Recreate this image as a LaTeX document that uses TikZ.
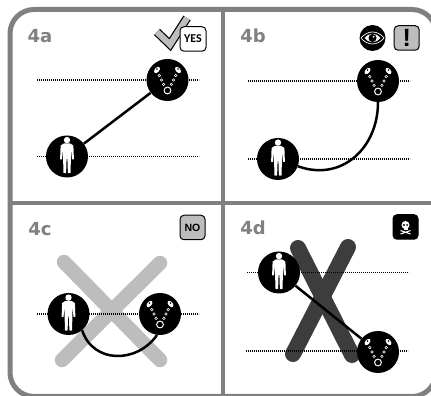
\documentclass[tikz,border=0pt]{standalone}
\usepackage{fontspec}
\setmainfont{Liberation Sans}
\newfontfamily\tagfont{DejaVu Sans}
\newfontfamily\yesfont{Carlito}
\usetikzlibrary{positioning,backgrounds}
\definecolor{framegrey}{HTML}{808080}
\definecolor{softgrey}{HTML}{BDBDBD}
\definecolor{darkgrey}{HTML}{3D3D3D}
\tikzset{
  disc/.style     = {circle, fill=black, minimum size=42pt, inner sep=0pt},
  tagtext/.style  = {font=\tagfont\bfseries\fontsize{18}{18}\selectfont, text=framegrey, inner sep=0pt},
  badge/.style    = {rectangle, rounded corners=4pt, draw=black, line width=1pt, fill=white,
                     minimum width=25pt, minimum height=24.5pt, inner sep=0pt,
                     font=\bfseries\fontsize{10.5}{10.5}\selectfont},
  tether/.style   = {line width=2.5pt, draw=black},
  guide/.style    = {line width=1.1pt, draw=black, dash pattern=on 1.1pt off 0.9pt},
  softcross/.style = {line width=14.5pt, draw=softgrey, line cap=round},
  darkcross/.style = {line width=16pt, draw=darkgrey, line cap=round},
  personfig/.pic = {
    \fill[white] (0,16.4) circle (3.2);
    \fill[white, rounded corners=0.5pt] (-3,13.2) -- (3,13.2) -- (6.4,11) -- (6.9,-3) -- (5,-3) -- (4,7)
      -- (3.6,-16.6) -- (0.9,-16.6) -- (0.4,-2) -- (-0.4,-2) -- (-0.9,-16.6) -- (-3.6,-16.6) -- (-4,7)
      -- (-5,-3) -- (-6.9,-3) -- (-6.4,11) -- cycle;
  },
  chainfig/.pic = {
    \draw[white, line width=1pt] (0,-10.5) circle (3.4);
    \foreach \s in {-1,1} {
      \fill[white, rotate around={\s*40:(\s*10.5,10)}] (\s*10.5,10) ellipse (2.3 and 3.7);
      \fill[black] (\s*10.5,11) circle (0.9);
      \foreach \x/\y in {8.2/4.4, 6/0, 3.9/-4.4}
        \draw[white, line width=0.5pt] (\s*\x,\y) circle (1.3);
    }
  },
  eyefig/.pic = {
    \draw[white, line width=0.7pt] (-11.5,0) .. controls (-5,8) and (5,8) .. (11.5,0)
      .. controls (5,-8) and (-5,-8) .. (-11.5,0) -- cycle;
    \fill[white] (-8,0) .. controls (-4,5.6) and (4,5.6) .. (8,0)
      .. controls (4,-5.6) and (-4,-5.6) .. (-8,0) -- cycle;
    \fill[black] (0,0) circle (4);
    \fill[white] (1.2,1.2) circle (1);
  },
  skullfig/.pic = {
    \draw[white, line width=1.1pt] (-5,-7) -- (5,-3.5) (-5,-3.5) -- (5,-7);
    \fill[white] (0,2) circle (4);
    \fill[white] (-2,-3) rectangle (2,0);
    \fill[black] (-1.6,2) circle (1.1) (1.6,2) circle (1.1);
  },
}
\begin{document}
\begin{tikzpicture}[x=1pt,y=1pt]
  \useasboundingbox (0,0) rectangle (431,396);
  \clip (0,0) rectangle (431,396);

  % panel frame
  \draw[framegrey, line width=5pt, rounded corners=24pt] (10,386.5) rectangle (436,-0.5);
  \draw[framegrey, line width=4pt] (222.5,386.5) -- (222.5,0);
  \draw[framegrey, line width=4pt] (10,192.5) -- (431,192.5);

  \node[tagtext] (tag4a) at (40,360) {4a};
  \node[tagtext] (tag4b) at (253,360) {4b};
  \node[tagtext] (tag4c) at (40,167) {4c};
  \node[tagtext] (tag4d) at (253,168) {4d};

  \node[disc] (per4a) at (67,239.5) {};
  \node[disc] (cha4a) at (167.5,316) {};
  \node[disc] (per4b) at (278,237) {};
  \node[disc] (cha4b) at (378,315) {};
  \node[disc] (per4c) at (68.5,82) {};
  \node[disc] (cha4c) at (160,82) {};
  \node[disc] (per4d) at (279,123.5) {};
  \node[disc] (cha4d) at (378,44) {};

  \foreach \n in {per4a,per4b,per4c,per4d} \pic at (\n) {personfig};
  \foreach \n in {cha4a,cha4b,cha4c,cha4d} \pic at (\n) {chainfig};

  % guide lines and crosses go under the discs
  \coordinate (g1) at (37,316);   \coordinate (g2) at (199,316);
  \coordinate (g3) at (37,239.5); \coordinate (g4) at (199,239.5);
  \coordinate (g5) at (248,315);  \coordinate (g6) at (410,315);
  \coordinate (g7) at (248,237);  \coordinate (g8) at (410,237);
  \coordinate (g9) at (37,82);    \coordinate (g10) at (199,82);
  \coordinate (g11) at (247,123.5); \coordinate (g12) at (409,123.5);
  \coordinate (g13) at (246,45);  \coordinate (g14) at (408,45);
  \coordinate (c1) at (64,134);   \coordinate (c2) at (160,36);
  \coordinate (c3) at (160,133);  \coordinate (c4) at (62,36);
  \coordinate (d1) at (298,148);  \coordinate (d2) at (352,41);
  \coordinate (d3) at (348,149);  \coordinate (d4) at (293,42);
  \begin{scope}[on background layer]
    \draw[softcross] (c1) -- (c2);
    \draw[softcross] (c3) -- (c4);
    \draw[darkcross] (d1) -- (d2);
    \draw[darkcross] (d3) -- (d4);
    \foreach \a/\b in {g1/g2,g3/g4,g5/g6,g7/g8,g9/g10,g11/g12,g13/g14}
      \draw[guide] (\a) -- (\b);
  \end{scope}

  \draw[tether] (per4a) -- (cha4a);
  \draw[tether] (per4b.-20) to[out=-20,in=-90,looseness=1.15] (cha4b.south);
  \draw[tether] (per4c.-50) to[out=-72,in=-125,looseness=1.2] (cha4c.-98);
  \draw[tether] (per4d) -- (cha4d);

  % marks in the corners
  \draw[black, line width=8.6pt, miter limit=10] (157,364) -- (170,351.5) -- (187,378);
  \draw[softgrey, line width=6.2pt, miter limit=10] (157,364) -- (170,351.5) -- (187,378);
  \node[badge, font=\yesfont\bfseries\fontsize{12}{12}\selectfont, minimum width=26pt] (yes) at (193,357) {YES};
  \node[disc, minimum size=26pt] (eye) at (372.5,358) {};
  \pic at (eye) {eyefig};
  \node[badge, fill=softgrey, right=8pt of eye, font=\bfseries\fontsize{25}{25}\selectfont] (warn) {!};
  \node[badge, fill=softgrey] (no) at (192.5,168.5) {NO};
  \node[badge, fill=black] (skull) at (405.5,169) {};
  \pic at (skull) {skullfig};
\end{tikzpicture}
\end{document}
